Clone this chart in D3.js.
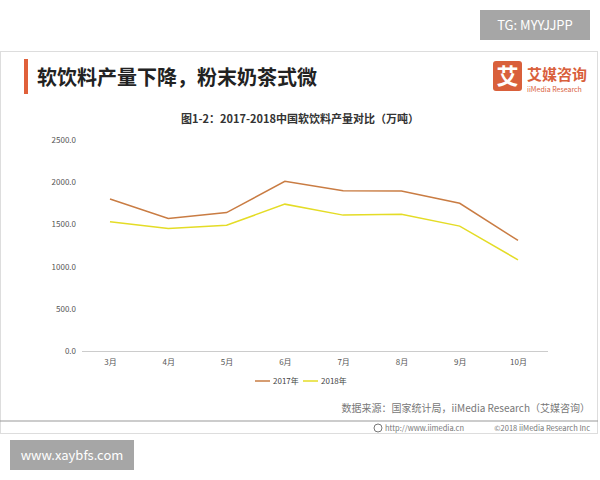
<!DOCTYPE html>
<html><head><meta charset="utf-8">
<script src="https://cdn.jsdelivr.net/npm/d3@7"></script>
<style>body{margin:0;background:#fff}text{font-family:"Noto Sans CJK SC",sans-serif}</style>
</head><body><svg width="600" height="480"></svg>
<script>
var months = ["3月","4月","5月","6月","7月","8月","9月","10月"];
var y2017 = [1800,1570,1640,2010,1900,1895,1750,1310];
var y2018 = [1530,1450,1490,1740,1610,1620,1480,1080];
var yTicks = [0,500,1000,1500,2000,2500];

var svg = d3.select("svg");

// card
svg.append("rect").attr("x",0.5).attr("y",51.5).attr("width",597).attr("height",382).attr("fill","#fff").attr("stroke","#ddd");
svg.append("line").attr("x1",0).attr("x2",598).attr("y1",421).attr("y2",421).attr("stroke","#999");

// watermarks
svg.append("rect").attr("x",480).attr("y",10).attr("width",110).attr("height",30).attr("fill","#a6a6a6");
svg.append("text").attr("x",535).attr("y",30).attr("text-anchor","middle").attr("fill","#fff").attr("font-size",13).text("TG: MYYJJPP");
svg.append("rect").attr("x",10).attr("y",440).attr("width",124).attr("height",30).attr("fill","#a6a6a6");
svg.append("text").attr("x",72).attr("y",460).attr("text-anchor","middle").attr("fill","#fff").attr("font-size",13).text("www.xaybfs.com");

// title
svg.append("rect").attr("x",24).attr("y",59).attr("width",4).attr("height",35).attr("fill","#e0603a");
svg.append("text").attr("x",37).attr("y",85).attr("font-size",20).attr("font-weight","bold").attr("fill","#222").text("软饮料产量下降，粉末奶茶式微");

// logo
svg.append("rect").attr("x",493).attr("y",61).attr("width",29).attr("height",30).attr("rx",3).attr("fill","#d9603b");
svg.append("text").attr("x",507.5).attr("y",84).attr("text-anchor","middle").attr("font-size",22).attr("font-weight","bold").attr("fill","#fff").text("艾");
svg.append("text").attr("x",527).attr("y",80).attr("font-size",15).attr("font-weight","bold").attr("fill","#d9603b").text("艾媒咨询");
svg.append("text").attr("x",527).attr("y",92).attr("font-size",7).attr("fill","#d9603b").text("iiMedia Research");

svg.append("text").attr("x",300).attr("y",123).attr("text-anchor","middle").attr("font-size",11).attr("font-weight","bold").attr("fill","#333").text("图1-2：2017-2018中国软饮料产量对比（万吨）");

var x = d3.scalePoint().domain(months).range([110,518]);
var y = d3.scaleLinear().domain([0,2500]).range([351,140]);

var gy = svg.append("g").attr("transform","translate(82,0)")
  .call(d3.axisLeft(y).tickValues(yTicks).tickFormat(d3.format(".1f")).tickSize(0).tickPadding(6));
gy.select(".domain").remove();
gy.selectAll("text").attr("font-size",8).attr("fill","#555");

var gx = svg.append("g").attr("transform","translate(0,351)")
  .call(d3.axisBottom(x).tickSize(0).tickPadding(8));
gx.select(".domain").attr("d","M82,0.5H548").attr("stroke","#ccc");
gx.selectAll("text").attr("font-size",8).attr("fill","#555");

var line = d3.line().x(function(d,i){return x(months[i]);}).y(function(d){return y(d);});
var series = [{name:"2017年",vals:y2017,color:"#c97c43"},{name:"2018年",vals:y2018,color:"#e4dc26"}];
series.forEach(function(s,k){
  svg.append("path").datum(s.vals).attr("d",line).attr("fill","none").attr("stroke",s.color).attr("stroke-width",1.5);
  var lx = 255 + k*48;
  svg.append("line").attr("x1",lx).attr("x2",lx+15).attr("y1",381).attr("y2",381).attr("stroke",s.color).attr("stroke-width",1.5);
  svg.append("text").attr("x",lx+18).attr("y",384).attr("font-size",8).attr("fill","#444").text(s.name);
});

svg.append("text").attr("x",590).attr("y",412).attr("text-anchor","end").attr("font-size",10).attr("fill","#777").text("数据来源：国家统计局，iiMedia Research（艾媒咨询）");
svg.append("circle").attr("cx",378).attr("cy",428).attr("r",4).attr("fill","none").attr("stroke","#777");
svg.append("text").attr("x",385).attr("y",431).attr("font-size",7.5).attr("fill","#777").text("http://www.iimedia.cn");
svg.append("text").attr("x",590).attr("y",431).attr("text-anchor","end").attr("font-size",7.5).attr("fill","#777").text("©2018  iiMedia Research  Inc");
</script></body></html>
